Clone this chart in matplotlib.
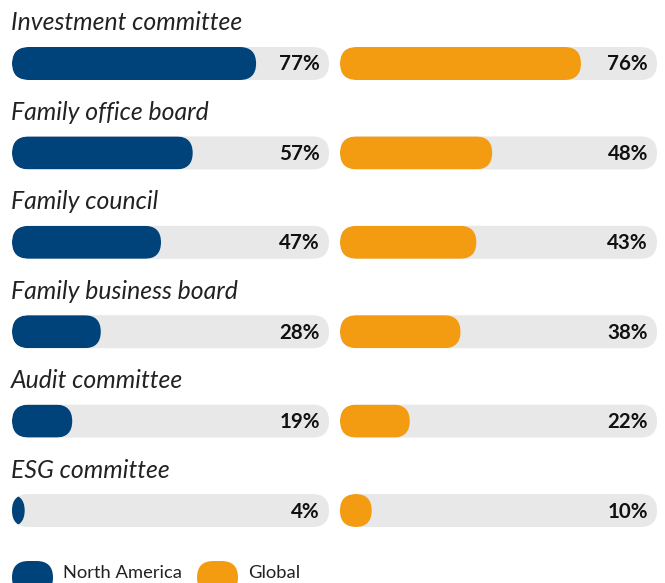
import matplotlib
matplotlib.use("Agg")
from matplotlib import pyplot as plt
from matplotlib.patches import FancyBboxPatch

categories = ["Investment committee", "Family office board", "Family council",
              "Family business board", "Audit committee", "ESG committee"]
north_america = [77, 57, 47, 28, 19, 4]
global_vals = [76, 48, 43, 38, 22, 10]
series_names = ["North America", "Global"]

NAVY = "#00437a"
ORANGE = "#f39c12"
TRACK = "#e8e8e8"

W, H = 665, 583
fig = plt.figure(figsize=(W / 100.0, H / 100.0), dpi=100)
ax = fig.add_axes([0, 0, 1, 1])
ax.set_xlim(0, W)
ax.set_ylim(H, 0)
ax.axis("off")

# layout (pixels)
track_x = [12, 340]
track_w = 317
bar_h = 33
row_gap = 89.4
first_bar = 63.5
label_off = 41


def stadium(x, y, w, h, color, z):
    p = FancyBboxPatch((x, y - h / 2.0), w, h,
                       boxstyle="round,pad=0,rounding_size=%f" % (h / 2.0),
                       fc=color, ec="none", zorder=z)
    ax.add_patch(p)
    return p


for i, cat in enumerate(categories):
    yc = first_bar + i * row_gap
    ax.text(11, yc - label_off + 0.5, cat, fontsize=17.8, family="Lato",
            style="italic", weight="normal", color="#222222",
            ha="left", va="center")
    for x0, val, col in zip(track_x, [north_america[i], global_vals[i]], [NAVY, ORANGE]):
        track = stadium(x0, yc, track_w, bar_h, TRACK, 1)
        x_end = x0 + track_w * val / 100.0
        start = min(x0, x_end - bar_h)
        bar = stadium(start, yc, x_end - start, bar_h, col, 2)
        bar.set_clip_path(track)
        ax.text(x0 + track_w - 9, yc + 1, "%d%%" % val, fontsize=14.8,
                family="Lato", weight="bold", color="#111111",
                ha="right", va="center", zorder=3)

# legend
leg_y = 577.5
for lx, name, col in zip([12, 197], series_names, [NAVY, ORANGE]):
    stadium(lx, leg_y, 41, bar_h, col, 2)
    ax.text(lx + 51, leg_y - 4, name, fontsize=13.2, family="Lato",
            weight="normal", color="#222222", ha="left", va="center")

fig.savefig("out.png", dpi=100)
